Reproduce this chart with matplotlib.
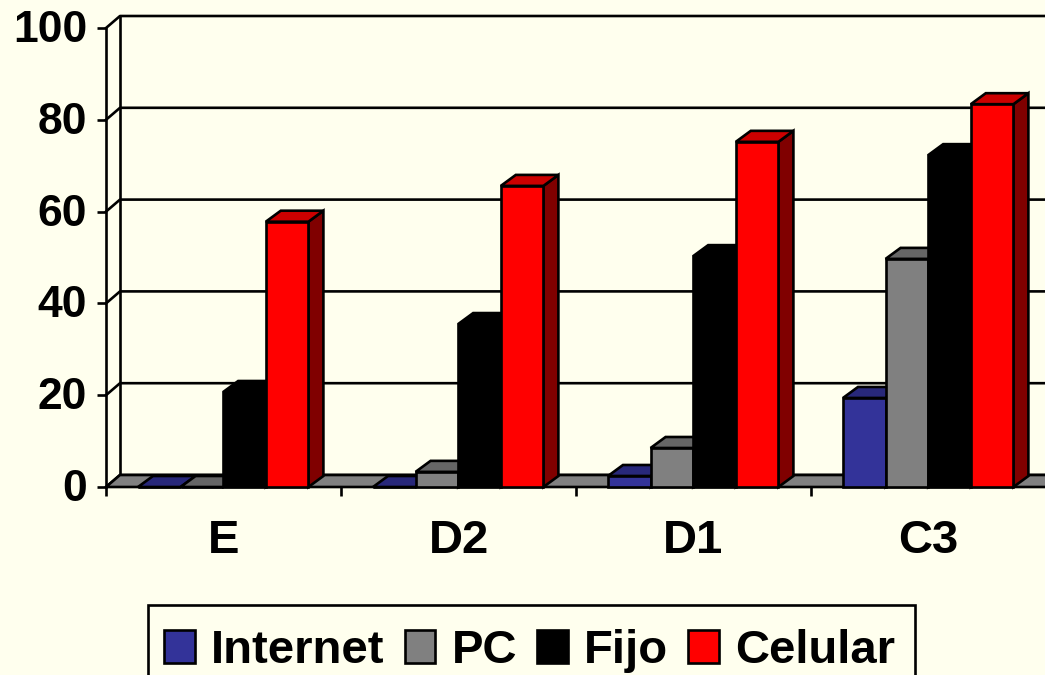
#3D looking column chart, drawn by hand from plain bars

import matplotlib
matplotlib.use("Agg")
import matplotlib.pyplot as plt
from matplotlib.patches import Patch,Rectangle
from matplotlib.transforms import ScaledTranslation

plt.rcParams['font.family']=['Liberation Sans','DejaVu Sans']
plt.rcParams['font.weight']='bold'

categories=['E','D2','D1','C3']
series=['Internet','PC','Fijo','Celular']
internet=[0,0,2.4,19.4]
pc=[0,3.3,8.5,49.7]
fijo=[20.7,35.5,50.3,72.3]
celular=[57.8,65.6,75.2,83.4]
values=[internet,pc,fijo,celular]
yticks=[0,20,40,60,80,100]

front=['#333399','#808080','#000000','#FF0000']
top=['#28287A','#666666','#000000','#CC0000']
side=['#1A1A4D','#404040','#000000','#800000']
bg='#FFFFEE'

#depth of the fake 3D, in data units
dx=14/235
dy=12/4.59
bardx=15/235
bardy=11/4.59
barw=42.6/235
start=32/235
lw=1.9

fig=plt.figure(figsize=(10.45,6.75),dpi=100,facecolor=bg)
ax=fig.add_axes([106/1045,1-487/675,940/1045,459/675])
ax.patch.set_visible(False)
ax.set_xlim(0,4)
ax.set_ylim(0,100)
for s in ax.spines.values():
    s.set_visible(False)

#walls and grid
for v in yticks:
    ax.plot([0,dx,4+dx],[v,v+dy,v+dy],color='k',lw=lw,clip_on=False,zorder=1)
ax.plot([0,0],[0,100],color='k',lw=lw,clip_on=False,zorder=1)
ax.plot([dx,dx],[dy,100+dy],color='k',lw=lw,clip_on=False,zorder=1)
ax.fill([0,dx,4+dx,4],[0,dy,dy,0],facecolor='#808080',edgecolor='k',lw=lw,clip_on=False,zorder=1.5)

#bars go left to right so the next one covers the side of the last one
z=2
for c in range(len(categories)):
    for i in range(len(series)):
        v=values[i][c]
        x0=c+start+i*barw
        x1=x0+barw
        ax.fill([x1,x1+bardx,x1+bardx,x1],[0,bardy,v+bardy,v],facecolor=side[i],edgecolor='k',lw=lw,clip_on=False,zorder=z)
        ax.fill([x0,x0+bardx,x1+bardx,x1],[v,v+bardy,v+bardy,v],facecolor=top[i],edgecolor='k',lw=lw,clip_on=False,zorder=z)
        ax.bar(x0,v,width=barw,align='edge',color=front[i],edgecolor='k',lw=lw,clip_on=False,zorder=z+0.5)
        z+=1

ax.set_yticks(yticks)
ax.set_yticklabels([str(v) for v in yticks])
ax.set_xticks(range(5))
ax.set_xticklabels([])
ax.set_xticks([c+0.5 for c in range(4)],labels=categories,minor=True)
ax.tick_params(axis='y',length=6.5,width=lw,pad=7,labelsize=32)
ax.tick_params(axis='x',which='major',length=6.5,width=lw)
ax.tick_params(axis='x',which='minor',length=0,pad=23,labelsize=34)
for t in ax.get_yticklabels():
    t.set_transform(t.get_transform()+ScaledTranslation(0,1.5/72,fig.dpi_scale_trans))

#frame runs off the bottom of the picture, so it is drawn apart from the legend
fig.add_artist(Rectangle((148/1045,1-690/675),767/1045,85/675,transform=fig.transFigure,
                         facecolor=bg,edgecolor='k',lw=lw))
handles=[Patch(facecolor=front[i],edgecolor='k',lw=lw,label=series[i]) for i in range(4)]
fig.legend(handles=handles,ncol=4,loc='upper left',bbox_to_anchor=(149/1045,1-614/675),
           borderaxespad=0,fontsize=34,handlelength=0.65,handleheight=0.68,handletextpad=0.34,
           columnspacing=0.43,borderpad=0.32,frameon=False)

fig.savefig('out.png',dpi=100,facecolor=bg)
